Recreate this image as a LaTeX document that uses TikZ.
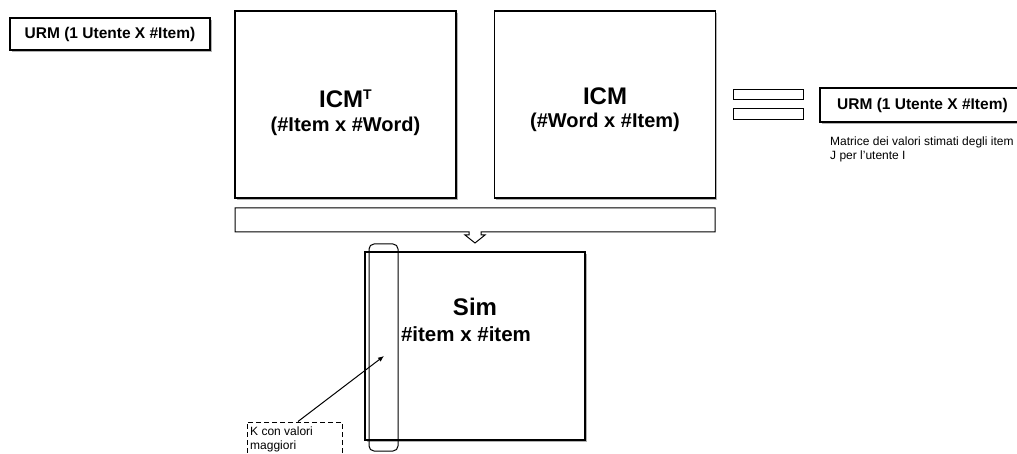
\documentclass[tikz,border=0pt]{standalone}
\usepackage{fontspec}
\setmainfont{Liberation Sans}
\usetikzlibrary{shadows,arrows.meta}
\begin{document}
\begin{tikzpicture}[x=1pt,y=-1pt,
  box/.style={draw=black,line width=1.1pt,fill=white,inner sep=0pt,
    drop shadow={shadow xshift=1.6pt,shadow yshift=-1.6pt,fill=black!30,opacity=1}},
  plainbox/.style={draw=black,line width=1pt,fill=white,inner sep=0pt},
  title/.style={font=\bfseries\fontsize{24}{26}\selectfont,inner sep=0pt},
  subtitle/.style={font=\bfseries\fontsize{20}{22}\selectfont,inner sep=0pt},
  label/.style={font=\bfseries\fontsize{15.5}{18}\selectfont,inner sep=0pt},
  note/.style={font=\fontsize{12}{14}\selectfont,align=left,inner sep=0pt}]
\useasboundingbox (0,0) rectangle (1017,454);
\clip (0,0) rectangle (1017,454);

% user rating row, left
\node[box,minimum width=200pt,minimum height=32pt] (urmL) at (110,34) {};
\node[label] (urmLt) at (urmL.center) {URM (1 Utente X \#Item)};

% transposed item-content matrix
\node[box,minimum width=221pt,minimum height=187pt] (icmt) at (345.5,104.5) {};
\node[title,anchor=base] (icmtA) at (345.5,108) {ICM{\fontsize{14}{14}\selectfont\raisebox{8.5pt}{T}}};
\node[subtitle,anchor=base] (icmtB) at (345.5,132) {(\#Item x \#Word)};

% item-content matrix
\node[box,minimum width=221pt,minimum height=187pt] (icm) at (605,104.5) {};
\node[title,anchor=base] (icmA) at (605,105) {ICM};
\node[subtitle,anchor=base] (icmB) at (605,128) {(\#Word x \#Item)};

% product bar with downward arrow
\path[plainbox] (235,208) -- (715,208) -- (715,232) -- (481,232) -- (481,235)
  -- (485,235) -- (475,243) -- (465,235) -- (469,235) -- (469,232)
  -- (235,232) -- cycle;

% similarity matrix
\node[box,minimum width=220pt,minimum height=188pt] (sim) at (475,346) {};
\node[title,anchor=base] (simA) at (475,316) {Sim};
\node[title,anchor=base,font=\bfseries\fontsize{20.5}{24}\selectfont] (simB) at (466,341) {\#item x \#item};

% highlighted column
\node[draw=black,line width=1pt,rounded corners=5pt,minimum width=29pt,
  minimum height=207pt,inner sep=0pt] (col) at (383.5,347.5) {};

% top-K note
\node[draw=black,line width=1pt,dash pattern=on 5pt off 3pt,minimum width=95pt,
  minimum height=48pt,inner sep=0pt] (kbox) at (294.5,446) {};
\node[note,anchor=north west] (kboxt) at (250,427) {K con valori\\maggiori};
\coordinate (ktip) at (384,356);
\draw[line width=1pt,-{Latex[length=6pt,width=5pt]}] ([xshift=3.5pt]kbox.north) -- (ktip);

% equals sign
\node[plainbox,minimum width=70pt,minimum height=10pt] (eqA) at (768,95) {};
\node[plainbox,minimum width=70pt,minimum height=11pt] (eqB) at (768,114.5) {};

% resulting user rating row
\node[box,minimum width=215pt,minimum height=34pt] (urmR) at (927.5,105) {};
\node[label,anchor=west] (urmRt) at (837,105) {URM (1 Utente X \#Item)};
\node[note,anchor=north west] (urmRn) at (830,137) {Matrice dei valori stimati degli item\\J per l’utente I};
\end{tikzpicture}
\end{document}
